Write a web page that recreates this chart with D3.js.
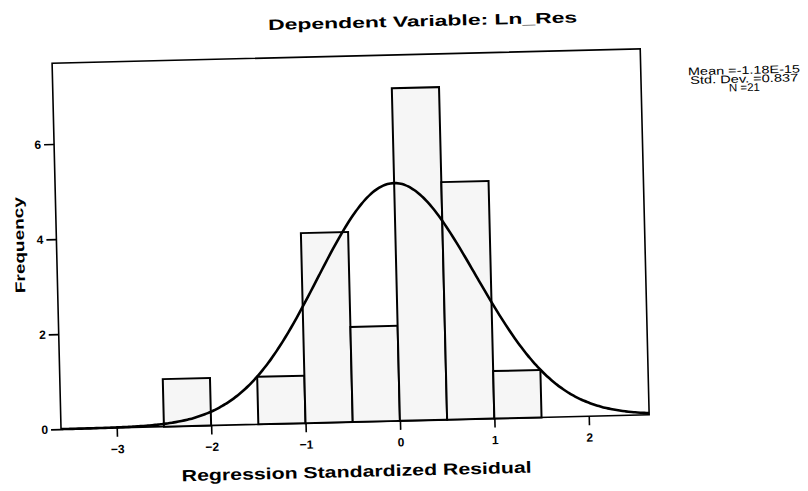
<!DOCTYPE html>
<html>
<head>
<meta charset="utf-8">
<script src="https://cdn.jsdelivr.net/npm/d3@7/dist/d3.min.js"></script>
<style>
  body { margin: 0; background: #fff; }
  svg text { font-family: "Liberation Sans", Arial, sans-serif; fill: #000; }
</style>
</head>
<body>
<div id="chart"></div>
<script>
// histogram: left edge of each bin and its count
const binStarts = [-2.5, -2, -1.5, -1, -0.5, 0, 0.5, 1];
const binCounts = [1, 0, 1, 4, 2, 7, 5, 1];
const binWidth = 0.5;

// statistics printed next to the plot (the normal curve is drawn from these)
const statMean = -1.18e-15;
const statSd = 0.837;
const statN = 21;
const statLines = ["Mean =-1.18E-15", "Std. Dev. =0.837", "N =21"];

const xTicks = [-3, -2, -1, 0, 1, 2];
const yTicks = [0, 2, 4, 6];

const titleText = "Dependent Variable: Ln_Res";
const xTitle = "Regression Standardized Residual";
const yTitle = "Frequency";

(function histogram(){
  const W = 808, H = 491;
  const box = {left: 56.5, right: 644.8, top: 56, bottom: 422};

  const svg = d3.select("#chart")
    .append("svg")
      .attr("width", W)
      .attr("height", H);

  svg.append("rect").attr("width", W).attr("height", H).attr("fill", "#fff");

  // the original is a slightly tilted scan, so everything sits in a rotated group
  const g = svg.append("g")
    .attr("transform", "rotate(-1.4, 352, 240)");

  const x = d3.scaleLinear()
    .domain([-3.59, 2.64])
    .range([box.left, box.right]);

  const y = d3.scaleLinear()
    .domain([0, 7.7])
    .range([box.bottom, box.top]);

  // frame
  g.append("rect")
    .attr("x", x.range()[0])
    .attr("y", y.range()[1])
    .attr("width", x.range()[1] - x.range()[0])
    .attr("height", y.range()[0] - y.range()[1])
    .attr("fill", "none")
    .attr("stroke", "#000")
    .attr("stroke-width", 1.6);

  // bars
  const bins = binStarts.map((s, i) => ({x0: s, x1: s + binWidth, n: binCounts[i]}))
    .filter(d => d.n > 0);

  g.selectAll(".bar")
    .data(bins)
    .join("rect")
      .attr("class", "bar")
      .attr("x", d => x(d.x0))
      .attr("y", d => y(d.n))
      .attr("width", d => x(d.x1) - x(d.x0))
      .attr("height", d => y(0) - y(d.n))
      .attr("fill", "#f6f6f6")
      .attr("stroke", "#000")
      .attr("stroke-width", 2);

  // normal curve scaled to counts: N * binWidth * pdf
  const pdf = v => Math.exp(-0.5 * ((v - statMean) / statSd) ** 2) / (statSd * Math.sqrt(2 * Math.PI));
  const xs = d3.range(0, 201).map(i => x.domain()[0] + i * (x.domain()[1] - x.domain()[0]) / 200);
  const line = d3.line()
    .x(v => x(v))
    .y(v => y(statN * binWidth * pdf(v)))
    .curve(d3.curveMonotoneX);

  g.append("path")
    .datum(xs)
    .attr("d", line)
    .attr("fill", "none")
    .attr("stroke", "#000")
    .attr("stroke-width", 2.6);

  // axes
  g.append("g")
    .attr("transform", `translate(0, ${box.bottom})`)
    .call(d3.axisBottom(x).tickValues(xTicks).tickSize(9).tickPadding(8).tickFormat(d3.format("d")))
    .call(a => a.select(".domain").remove())
    .call(a => a.selectAll("line").attr("stroke", "#000").attr("stroke-width", 1.6))
    .call(a => a.selectAll("text").attr("font-size", 12).attr("font-weight", "bold")
      .style("font-family", "'Liberation Sans', Arial, sans-serif"));

  g.append("g")
    .attr("transform", `translate(${box.left}, 0)`)
    .call(d3.axisLeft(y).tickValues(yTicks).tickSize(10).tickPadding(3).tickFormat(d3.format("d")))
    .call(a => a.select(".domain").remove())
    .call(a => a.selectAll("line").attr("stroke", "#000").attr("stroke-width", 1.6))
    .call(a => a.selectAll("text").attr("font-size", 12).attr("font-weight", "bold")
      .style("font-family", "'Liberation Sans', Arial, sans-serif"));

  // titles
  g.append("text")
    .attr("x", 428).attr("y", 28)
    .attr("text-anchor", "middle")
    .attr("font-size", 15).attr("font-weight", "bold")
    .attr("textLength", 309).attr("lengthAdjust", "spacingAndGlyphs")
    .text(titleText);

  g.append("text")
    .attr("x", 351).attr("y", 477)
    .attr("text-anchor", "middle")
    .attr("font-size", 16).attr("font-weight", "bold")
    .attr("textLength", 350).attr("lengthAdjust", "spacingAndGlyphs")
    .text(xTitle);

  g.append("text")
    .attr("transform", "translate(24, 237) rotate(-90)")
    .attr("text-anchor", "middle")
    .attr("font-size", 14).attr("font-weight", "bold")
    .attr("textLength", 96).attr("lengthAdjust", "spacingAndGlyphs")
    .text(yTitle);

  // stats block at the right
  const statWidths = [112, 108, 31];
  statLines.forEach((s, i) => {
    g.append("text")
      .attr("x", 748).attr("y", 83.6 + i * 8.6)
      .attr("text-anchor", "middle")
      .attr("font-size", 11)
      .attr("textLength", statWidths[i]).attr("lengthAdjust", "spacingAndGlyphs")
      .text(s);
  });
})();
</script>
</body>
</html>
